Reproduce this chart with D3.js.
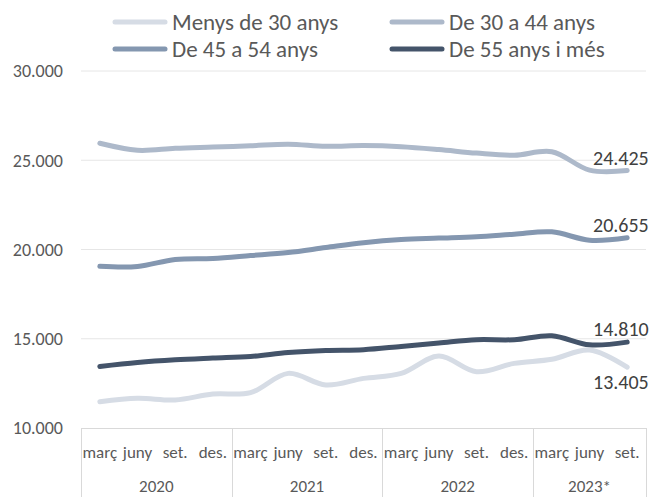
<!DOCTYPE html>
<html>
<head>
<meta charset="utf-8">
<script src="https://cdn.jsdelivr.net/npm/d3@7"></script>
<style>
  body { margin: 0; background: #fff; }
  text { font-family: Carlito, Calibri, Lato, "Noto Sans", sans-serif; }
</style>
</head>
<body>
<script>
// data
const months = ["març","juny","set.","des.","març","juny","set.","des.","març","juny","set.","des.","març","juny","set."];
const years = ["2020","2021","2022","2023*"];
const yearSizes = [4, 4, 4, 3];
const yTicks = [10000, 15000, 20000, 25000, 30000];
const seriesNames = ["Menys de 30 anys", "De 30 a 44 anys", "De 45 a 54 anys", "De 55 anys i més"];
const under30 = [11470, 11660, 11570, 11900, 11980, 13060, 12410, 12780, 13060, 14030, 13150, 13620, 13850, 14370, 13405];
const from30to44 = [25950, 25560, 25670, 25740, 25810, 25900, 25780, 25820, 25760, 25600, 25400, 25280, 25480, 24450, 24425];
const from45to54 = [19060, 19050, 19440, 19500, 19660, 19830, 20110, 20380, 20560, 20640, 20720, 20860, 20990, 20520, 20655];
const from55 = [13450, 13670, 13820, 13920, 14010, 14230, 14345, 14385, 14570, 14760, 14945, 14945, 15170, 14660, 14810];
const colors = ["#d6dce5", "#adb9ca", "#8497b0", "#44546a"];

const W = 661, H = 497;
const mLeft = 81, mRight = 646, mTop = 71, mBottom = 428;

const svg = d3.select("body").append("svg")
              .attr("width", W)
              .attr("height", H);

const x = d3.scaleBand()
            .domain(d3.range(months.length))
            .range([mLeft, mRight]);
const y = d3.scaleLinear()
            .domain([10000, 30000])
            .range([mBottom, mTop]);

const fmt = d3.format(",.0f");
const dot = v => fmt(v).replace(/,/g, ".");

// gridlines
svg.append("g")
   .selectAll("line")
   .data(yTicks.slice(1))
   .join("line")
   .attr("x1", mLeft).attr("x2", mRight)
   .attr("y1", d => y(d)).attr("y2", d => y(d))
   .attr("stroke", "#e6e6e6")
   .attr("stroke-width", 1);

// y labels
svg.append("g")
   .selectAll("text")
   .data(yTicks)
   .join("text")
   .attr("x", 63)
   .attr("y", d => y(d))
   .attr("dy", "0.35em")
   .attr("text-anchor", "end")
   .attr("font-size", 18)
   .attr("fill", "#595959")
   .text(d => dot(d));

// category axis box
const axisG = svg.append("g").attr("stroke", "#d9d9d9").attr("stroke-width", 1);
axisG.append("line")
     .attr("x1", mLeft).attr("x2", mRight)
     .attr("y1", mBottom + 0.5).attr("y2", mBottom + 0.5);
let idx = 0;
const bounds = [0];
yearSizes.forEach(n => { idx += n; bounds.push(idx); });
const bx = d => d === months.length ? mRight : x(d);
axisG.selectAll("line.sep")
     .data(bounds)
     .join("line")
     .attr("class", "sep")
     .attr("x1", d => Math.round(bx(d)) + 0.5)
     .attr("x2", d => Math.round(bx(d)) + 0.5)
     .attr("y1", mBottom).attr("y2", H);

svg.append("g")
   .selectAll("text")
   .data(months)
   .join("text")
   .attr("x", (d, i) => x(i) + x.bandwidth() / 2)
   .attr("y", 458)
   .attr("text-anchor", "middle")
   .attr("font-size", 17)
   .attr("fill", "#595959")
   .text(d => d);

svg.append("g")
   .selectAll("text")
   .data(years)
   .join("text")
   .attr("x", (d, i) => (bx(bounds[i]) + bx(bounds[i + 1])) / 2)
   .attr("y", 492)
   .attr("text-anchor", "middle")
   .attr("font-size", 17)
   .attr("fill", "#595959")
   .text(d => d);

// lines
const allSeries = [under30, from30to44, from45to54, from55];
const line = d3.line()
               .x((d, i) => x(i) + x.bandwidth() / 2)
               .y(d => y(d))
               .curve(d3.curveCatmullRom.alpha(0.5));

svg.append("g")
   .selectAll("path")
   .data(allSeries)
   .join("path")
   .attr("d", d => line(d))
   .attr("fill", "none")
   .attr("stroke", (d, i) => colors[i])
   .attr("stroke-width", 5)
   .attr("stroke-linecap", "round");

// end labels
const last = months.length - 1;
const labelDy = [22, -6, -6, -6];
svg.append("g")
   .selectAll("text")
   .data(allSeries)
   .join("text")
   .attr("x", 593)
   .attr("y", (d, i) => y(d[last]) + labelDy[i])
   .attr("font-size", 20)
   .attr("fill", "#404040")
   .text(d => dot(d[last]));

// legend
const legendPos = [[115, 22], [392, 22], [115, 49], [392, 49]];
const legend = svg.append("g")
                  .selectAll("g")
                  .data(seriesNames)
                  .join("g")
                  .attr("transform", (d, i) => "translate(" + legendPos[i][0] + "," + legendPos[i][1] + ")");
legend.append("line")
      .attr("x1", 0).attr("x2", 50)
      .attr("stroke", (d, i) => colors[i])
      .attr("stroke-width", 5)
      .attr("stroke-linecap", "round");
legend.append("text")
      .attr("x", 57)
      .attr("dy", "0.35em")
      .attr("font-size", 23)
      .attr("fill", "#595959")
      .text(d => d);
</script>
</body>
</html>
